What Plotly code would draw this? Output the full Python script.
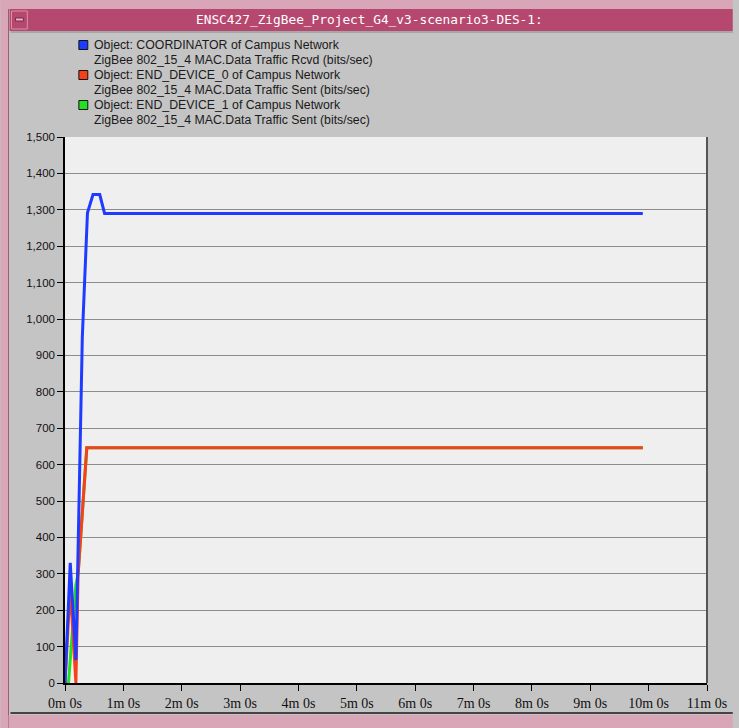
import plotly.graph_objects as go

# ---------------- data (time in seconds, values in bits/sec) ----------------
coord_t = [0, 5.4, 11.2, 17.8, 23.1, 28.8, 35.7, 40.7, 594]
coord_v = [0, 330, 63, 950, 1292, 1342, 1342, 1290, 1290]

ed0_t = [0, 5.4, 11.2, 13.5, 22.4, 594]
ed0_v = [0, 264, 0, 300, 646, 646]

ed1_t = [0, 3.6, 11.2, 13.5, 22.4, 594]
ed1_v = [0, 0, 270, 300, 646, 646]

x_tick_vals = list(range(12))
x_tick_text = ["0m 0s", "1m 0s", "2m 0s", "3m 0s", "4m 0s", "5m 0s",
               "6m 0s", "7m 0s", "8m 0s", "9m 0s", "10m 0s", "11m 0s"]

legend_lines = [
    ("Object: COORDINATOR of Campus Network",
     "ZigBee 802_15_4 MAC.Data Traffic Rcvd (bits/sec)", "#1F3BFF"),
    ("Object: END_DEVICE_0 of Campus Network",
     "ZigBee 802_15_4 MAC.Data Traffic Sent (bits/sec)", "#F5401A"),
    ("Object: END_DEVICE_1 of Campus Network",
     "ZigBee 802_15_4 MAC.Data Traffic Sent (bits/sec)", "#22E022"),
]
title_text = "ENSC427_ZigBee_Project_G4_v3-scenario3-DES-1:"

# ---------------- geometry helpers (figure pixels -> paper coords) ----------
W, H = 739, 728
L, R, T, B = 65, 713, 137, 683


def px(x):
    return (x - L) / (R - L)


def py(y):
    return (B - y) / (B - T)


fig = go.Figure()

fig.add_trace(go.Scatter(x=[t / 60 for t in ed1_t], y=ed1_v, mode="lines",
                         line=dict(color="#22E022", width=3), hoverinfo="skip"))
fig.add_trace(go.Scatter(x=[t / 60 for t in ed0_t], y=ed0_v, mode="lines",
                         line=dict(color="#F5401A", width=3), hoverinfo="skip"))
fig.add_trace(go.Scatter(x=[t / 60 for t in coord_t], y=coord_v, mode="lines",
                         line=dict(color="#1F3BFF", width=3), hoverinfo="skip"))

shapes = []
# window frame
shapes.append(dict(type="rect", xref="paper", yref="paper", layer="below",
                   x0=px(0), x1=px(W), y0=py(0), y1=py(9),
                   fillcolor="#D9A6B8", line=dict(width=0)))
shapes.append(dict(type="rect", xref="paper", yref="paper", layer="below",
                   x0=px(0), x1=px(8), y0=py(0), y1=py(H),
                   fillcolor="#D9A6B8", line=dict(width=0)))
shapes.append(dict(type="line", xref="paper", yref="paper", layer="below",
                   x0=px(8), x1=px(8), y0=py(9), y1=py(H),
                   line=dict(color="#9A5A70", width=1)))
shapes.append(dict(type="rect", xref="paper", yref="paper", layer="below",
                   x0=px(8), x1=px(W), y0=py(715), y1=py(H),
                   fillcolor="#D9A6B8", line=dict(width=0)))
shapes.append(dict(type="line", xref="paper", yref="paper", layer="below",
                   x0=px(10), x1=px(W), y0=py(713), y1=py(713),
                   line=dict(color="#444444", width=2)))
# title bar
shapes.append(dict(type="rect", xref="paper", yref="paper", layer="below",
                   x0=px(9), x1=px(W), y0=py(9), y1=py(31),
                   fillcolor="#B6486F", line=dict(width=0)))
shapes.append(dict(type="rect", xref="paper", yref="paper", layer="below",
                   x0=px(11), x1=px(27), y0=py(11), y1=py(29),
                   fillcolor="#B6486F", line=dict(color="#D890A8", width=1)))
shapes.append(dict(type="rect", xref="paper", yref="paper", layer="below",
                   x0=px(15), x1=px(23), y0=py(18), y1=py(21),
                   fillcolor="#E8B8C8", line=dict(color="#7A2848", width=1)))
# inner panel top shadow
shapes.append(dict(type="line", xref="paper", yref="paper", layer="below",
                   x0=px(10), x1=px(W), y0=py(32), y1=py(32),
                   line=dict(color="#8A8A8A", width=1)))
# right border of the plot
shapes.append(dict(type="line", xref="paper", yref="paper",
                   x0=1, x1=1, y0=0, y1=1,
                   line=dict(color="#555555", width=2)))

annotations = [dict(text=title_text, xref="paper", yref="paper",
                    x=px(372), y=py(19), xanchor="center", yanchor="middle",
                    showarrow=False,
                    font=dict(family="DejaVu Sans Mono", size=12.8, color="white"))]

for i, (l1, l2, col) in enumerate(legend_lines):
    yc = 45 + 30 * i
    shapes.append(dict(type="rect", xref="paper", yref="paper",
                       x0=px(79), x1=px(88), y0=py(yc - 4.5), y1=py(yc + 4.5),
                       fillcolor=col, line=dict(color="#111111", width=1)))
    annotations.append(dict(text=l1, xref="paper", yref="paper",
                            x=px(92), y=py(yc), xanchor="left", yanchor="middle",
                            showarrow=False,
                            font=dict(family="Liberation Sans", size=12.3, color="#1a1a1a")))
    annotations.append(dict(text=l2, xref="paper", yref="paper",
                            x=px(92), y=py(yc + 15), xanchor="left", yanchor="middle",
                            showarrow=False,
                            font=dict(family="Liberation Sans", size=12.3, color="#1a1a1a")))

fig.update_layout(
    width=W, height=H,
    margin=dict(l=L, r=W - R, t=T, b=H - B),
    paper_bgcolor="#C4C4C4",
    plot_bgcolor="#EFEFEF",
    showlegend=False,
    shapes=shapes,
    annotations=annotations,
    xaxis=dict(range=[0, 11], tickvals=x_tick_vals, ticktext=x_tick_text,
               ticks="outside", ticklen=6, tickcolor="black", showgrid=False,
               zeroline=False, showline=True, linecolor="black", linewidth=1.5,
               tickfont=dict(family="Liberation Sans Narrow", size=14, color="#111111")),
    yaxis=dict(range=[0, 1500], dtick=100, tickformat=",d",
               ticks="outside", ticklen=6, tickcolor="black",
               showgrid=True, gridcolor="#8C8C8C", gridwidth=1,
               zeroline=False, showline=True, linecolor="black", linewidth=1.5,
               tickfont=dict(family="Liberation Sans", size=11.5, color="#111111")),
)

fig.write_html("out.html", config={"displayModeBar": False},
               post_script="document.body.style.margin='0';document.body.style.overflow='hidden';")
